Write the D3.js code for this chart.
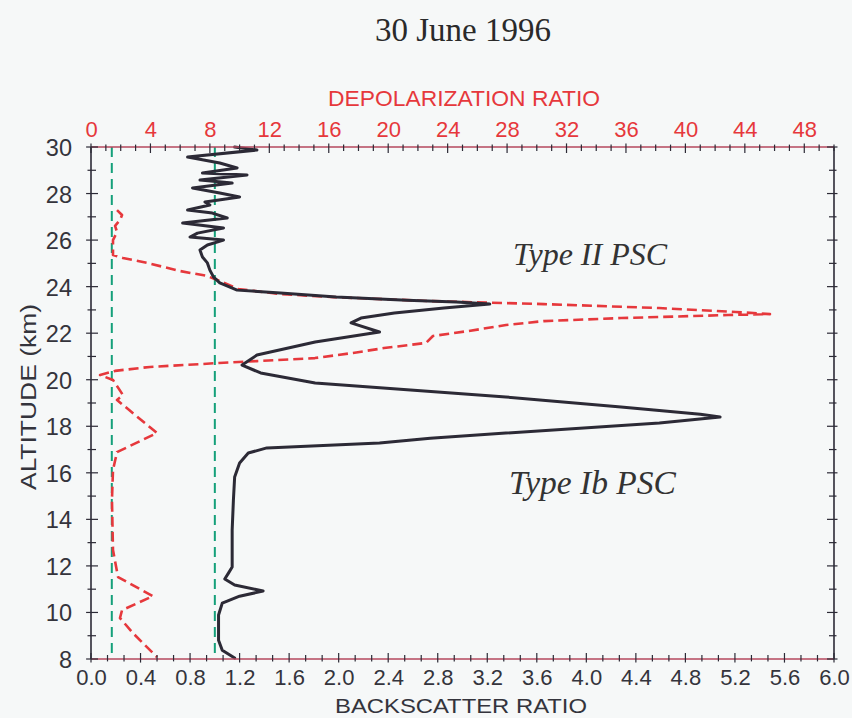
<!DOCTYPE html>
<html>
<head>
<meta charset="utf-8">
<script src="https://cdn.jsdelivr.net/npm/d3@7"></script>
<style>
  html, body { margin: 0; padding: 0; background: #f6f8f8; }
  svg { display: block; }
</style>
</head>
<body>
<svg id="chart" width="852" height="718"></svg>
<script>
// ---------------- DATA ----------------
const title = "30 June 1996";
const topAxisTitle = "DEPOLARIZATION RATIO";
const bottomAxisTitle = "BACKSCATTER RATIO";
const leftAxisTitle = "ALTITUDE (km)";
const labelTypeII = "Type II PSC";
const labelTypeIb = "Type Ib PSC";

const altitudeTicks = [8, 10, 12, 14, 16, 18, 20, 22, 24, 26, 28, 30];
const backscatterTicks = ["0.0","0.4","0.8","1.2","1.6","2.0","2.4","2.8","3.2","3.6","4.0","4.4","4.8","5.2","5.6","6.0"];
const depolTicks = [0, 4, 8, 12, 16, 20, 24, 28, 32, 36, 40, 44, 48];

// Backscatter ratio profile (black solid line)
const bsrAlt = [30.00, 29.87, 29.57, 29.31, 29.10, 28.88, 28.80, 28.58, 28.45, 28.24, 28.02, 27.85, 27.64, 27.51, 27.29, 27.16, 26.95, 26.73, 26.52, 26.30, 26.13, 26.00, 25.79, 25.57, 25.27, 25.02, 24.71, 24.41, 24.16, 23.85,
  23.73, 23.55, 23.42, 23.34, 23.25, 23.08, 22.87, 22.65, 22.44, 22.05, 21.62, 21.06, 20.63, 20.29, 19.86, 19.56, 19.26, 18.83, 18.52, 18.40, 18.14, 17.71, 17.49,
  17.28, 17.07, 16.85, 16.42, 15.82, 14.83, 13.54, 11.95, 11.69, 11.44, 11.18, 10.92, 10.70, 10.40, 9.89, 8.81, 8.38, 8.04];
const bsrVal = [1.16, 1.34, 0.78, 1.04, 1.18, 0.90, 1.26, 0.88, 1.14, 0.82, 1.04, 1.20, 0.92, 0.96, 0.78, 0.98, 1.10, 0.74, 1.07, 0.86, 0.80, 1.07, 0.94, 0.88, 0.90, 0.94, 0.96, 0.99, 1.04, 1.18,
  1.53, 1.98, 2.55, 2.95, 3.22, 2.85, 2.45, 2.18, 2.10, 2.33, 1.81, 1.34, 1.22, 1.37, 1.81, 2.58, 3.35, 4.28, 4.92, 5.08, 4.59, 3.35, 2.74,
  2.33, 1.42, 1.27, 1.20, 1.16, 1.15, 1.14, 1.14, 1.11, 1.08, 1.16, 1.39, 1.20, 1.06, 1.03, 1.03, 1.06, 1.16];

// Depolarization ratio profile (red dashed line, top axis)
const depAlt = [27.29, 27.08, 26.86, 26.61, 26.35, 26.00, 25.36, 25.23, 25.02, 24.67, 24.46, 24.20, 23.90, 23.68, 23.55, 23.38, 23.25, 23.08, 22.91, 22.82,
  22.78, 22.65, 22.52, 22.35, 22.09, 21.88, 21.58, 21.36, 21.15, 20.93, 20.80, 20.72, 20.67, 20.55, 20.38, 20.20, 19.99,
  19.34, 19.13, 17.71, 16.89, 16.12, 14.83, 12.68, 11.52, 10.70, 10.10, 9.76, 9.11, 8.08];
const depVal = [1.75, 2.09, 1.95, 1.62, 1.75, 1.48, 1.48, 2.15, 3.77, 5.99, 7.81, 8.82, 9.89, 12.72, 16.35, 22.81, 30.48, 38.22, 43.40, 45.69,
  42.87, 35.67, 30.48, 27.93, 25.37, 23.01, 22.54, 19.72, 17.63, 15.07, 11.17, 8.61, 7.34, 3.97, 1.62, 0.61, 1.48,
  2.15, 1.75, 4.44, 1.75, 1.48, 1.41, 1.48, 1.82, 4.17, 2.09, 1.95, 2.83, 4.44];

// Reference (green dashed) lines
const refDepol = 1.4;
const refBackscatter = 1.0;

// ---------------- CHART ----------------
const svg = d3.select("#chart");
const L = 91, R = 834, T = 147, B = 659;

const y = d3.scaleLinear().domain([8, 30]).range([B, T]);
const xb = d3.scaleLinear().domain([0, 6]).range([L, R]);
const xd = d3.scaleLinear().domain([0, 50]).range([L, R]);

const dark = "#2c2a36";
const red = "#e6383c";
const green = "#14a07a";
const axisRed = "#b5485e";

svg.append("rect").attr("width", 852).attr("height", 718).attr("fill", "#f6f8f8");

// Title
svg.append("text").attr("x", 463).attr("y", 41).attr("text-anchor", "middle")
  .attr("font-family", "'Liberation Serif', 'Times New Roman', serif").attr("font-size", 33)
  .attr("fill", "#2a2a2a").text(title);

// Reference lines
svg.append("line").attr("x1", xd(refDepol)).attr("x2", xd(refDepol)).attr("y1", y(30)).attr("y2", y(8))
  .attr("stroke", green).attr("stroke-width", 2).attr("stroke-dasharray", "10,6");
svg.append("line").attr("x1", xb(refBackscatter)).attr("x2", xb(refBackscatter)).attr("y1", y(30)).attr("y2", y(8))
  .attr("stroke", green).attr("stroke-width", 2).attr("stroke-dasharray", "10,6");

// Depolarization (red dashed)
const depPts = depAlt.map((a, i) => [xd(depVal[i]), y(a)]);
svg.append("path").attr("d", d3.line()(depPts))
  .attr("fill", "none").attr("stroke", red).attr("stroke-width", 2.6)
  .attr("stroke-dasharray", "10,5").attr("stroke-linejoin", "round");

// Backscatter (black solid)
const bsrPts = bsrAlt.map((a, i) => [xb(bsrVal[i]), y(a)]);
svg.append("path").attr("d", d3.line()(bsrPts))
  .attr("fill", "none").attr("stroke", dark).attr("stroke-width", 3)
  .attr("stroke-linejoin", "round").attr("stroke-linecap", "round");

// Frame
svg.append("line").attr("x1", L).attr("x2", L).attr("y1", T).attr("y2", B).attr("stroke", dark).attr("stroke-width", 1.6);
svg.append("line").attr("x1", R).attr("x2", R).attr("y1", T).attr("y2", B).attr("stroke", dark).attr("stroke-width", 1.6);
svg.append("line").attr("x1", L).attr("x2", R).attr("y1", T).attr("y2", T).attr("stroke", axisRed).attr("stroke-width", 1.6);
svg.append("line").attr("x1", L).attr("x2", R).attr("y1", B).attr("y2", B).attr("stroke", axisRed).attr("stroke-width", 1.6);

const tickG = svg.append("g").attr("stroke", dark).attr("stroke-width", 1.2);

// Bottom ticks (every 0.4/3)
d3.range(0, 46).forEach(i => {
  const v = i * 0.4 / 3;
  const major = i % 3 === 0;
  const h = major ? 6 : 4;
  tickG.append("line").attr("x1", xb(v)).attr("x2", xb(v)).attr("y1", B - h).attr("y2", B + h * 0.6);
});
// Top ticks (every 1 depol unit)
d3.range(0, 51).forEach(v => {
  const major = v % 4 === 0;
  const h = major ? 6 : 4;
  tickG.append("line").attr("x1", xd(v)).attr("x2", xd(v)).attr("y1", T - h * 0.6).attr("y2", T + h);
});
// Left / right ticks (every 1 km)
d3.range(8, 31).forEach(v => {
  const major = v % 2 === 0;
  const h = major ? 7 : 5;
  tickG.append("line").attr("x1", L - h * 0.7).attr("x2", L + h).attr("y1", y(v)).attr("y2", y(v));
  tickG.append("line").attr("x1", R - h).attr("x2", R + h * 0.5).attr("y1", y(v)).attr("y2", y(v));
});

const sans = "'Liberation Sans', Arial, Helvetica, sans-serif";

// Left axis labels
const leftAxis = d3.axisLeft(y).tickValues(altitudeTicks).tickSize(0).tickPadding(19).tickFormat(d3.format("d"));
const gl = svg.append("g").attr("transform", `translate(${L},0)`).call(leftAxis);
gl.select(".domain").remove();
gl.selectAll("text").attr("font-family", sans).attr("font-size", 23.5).attr("fill", "#34343c").attr("dy", "0.36em");

// Bottom axis labels
const bottomAxis = d3.axisBottom(xb).tickValues(backscatterTicks.map(Number)).tickSize(0).tickPadding(22)
  .tickFormat((d, i) => backscatterTicks[i]);
const gb = svg.append("g").attr("transform", `translate(0,${B})`).call(bottomAxis);
gb.select(".domain").remove();
gb.selectAll("text").attr("font-family", sans).attr("font-size", 22).attr("fill", "#34343c").attr("dy", "0.2em");

// Top axis labels
const topAxis = d3.axisTop(xd).tickValues(depolTicks).tickSize(0).tickPadding(10).tickFormat(d3.format("d"));
const gt = svg.append("g").attr("transform", `translate(0,${T})`).call(topAxis);
gt.select(".domain").remove();
gt.selectAll("text").attr("font-family", sans).attr("font-size", 22).attr("fill", red);

// Axis titles
svg.append("text").attr("x", 464).attr("y", 106).attr("text-anchor", "middle")
  .attr("font-family", sans).attr("font-size", 22).attr("fill", red)
  .attr("textLength", 272).attr("lengthAdjust", "spacingAndGlyphs").text(topAxisTitle);
svg.append("text").attr("x", 461).attr("y", 713).attr("text-anchor", "middle")
  .attr("font-family", sans).attr("font-size", 21).attr("fill", "#34343c")
  .attr("textLength", 252).attr("lengthAdjust", "spacingAndGlyphs").text(bottomAxisTitle);
svg.append("text").attr("transform", "translate(36,397) rotate(-90)").attr("text-anchor", "middle")
  .attr("font-family", sans).attr("font-size", 22).attr("fill", "#34343c")
  .attr("textLength", 186).attr("lengthAdjust", "spacingAndGlyphs").text(leftAxisTitle);

// Annotations
const serif = "'Liberation Serif', 'Times New Roman', serif";
svg.append("text").attr("x", 513).attr("y", 265).attr("font-family", serif).attr("font-style", "italic")
  .attr("font-size", 32).attr("fill", "#333").text(labelTypeII);
svg.append("text").attr("x", 509).attr("y", 494).attr("font-family", serif).attr("font-style", "italic")
  .attr("font-size", 33.5).attr("fill", "#333").text(labelTypeIb);
</script>
</body>
</html>
